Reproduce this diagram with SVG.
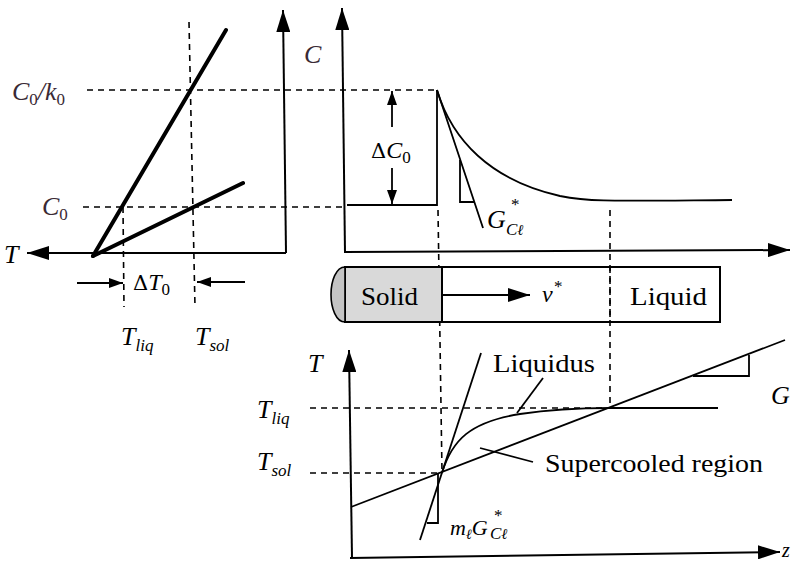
<svg xmlns="http://www.w3.org/2000/svg" width="798" height="567" viewBox="0 0 798 567">
<defs>
  <marker id="big" viewBox="0 0 22 14" refX="22" refY="7" markerWidth="22" markerHeight="14" markerUnits="userSpaceOnUse" orient="auto">
    <path d="M0,0 L22,7 L0,14 Z" fill="#000"/>
  </marker>
  <marker id="small" viewBox="0 0 14 10" refX="14" refY="5" markerWidth="14" markerHeight="10" markerUnits="userSpaceOnUse" orient="auto">
    <path d="M0,0 L14,5 L0,10 Z" fill="#000"/>
  </marker>
</defs>

<g id="left-panel">
  <g stroke="#000" stroke-width="1.6" fill="none" stroke-dasharray="6,5">
    <line x1="87" y1="90" x2="437" y2="90"/>
    <line x1="83" y1="207" x2="345" y2="207"/>
    <line x1="189" y1="22" x2="195" y2="307"/>
    <line x1="123" y1="207" x2="124" y2="307"/>
  </g>
  <g stroke="#000" stroke-width="4" fill="none" stroke-linecap="round">
    <line x1="93" y1="256" x2="226" y2="30"/>
    <line x1="93" y1="256" x2="243" y2="183"/>
  </g>
  <g font-family="Liberation Serif">
    <text font-size="26" font-style="italic" fill="#3a2a35" x="12" y="100">C<tspan font-size="17" font-style="normal" dy="5">0</tspan><tspan dy="-5">/k</tspan><tspan font-size="17" font-style="normal" dy="5">0</tspan></text>
    <text font-size="26" font-style="italic" fill="#3a2a35" x="42" y="215">C<tspan font-size="17" font-style="normal" dy="5">0</tspan></text>
    <text font-size="26" font-style="italic" x="4" y="263">T</text>
    <text font-size="24" x="133" y="290"><tspan font-family="DejaVu Serif" font-size="21">Δ</tspan><tspan font-style="italic">T</tspan><tspan font-size="17" dy="5">0</tspan></text>
    <text font-size="26" font-style="italic" x="121" y="345">T<tspan font-size="17" dy="6">liq</tspan></text>
    <text font-size="26" font-style="italic" x="195" y="345">T<tspan font-size="17" dy="6">sol</tspan></text>
  </g>
</g>

<g id="concentration-panel">
  <g stroke="#000" stroke-width="1.8" fill="none">
    <polyline points="347,205 437,205 437,90"/>
    <path d="M437,90 C452,140 490,180 560,196 C590,202 610,201 732,200"/>
    <line x1="437" y1="90" x2="483" y2="228"/>
    <polyline points="460,160 460,202 474,202"/>
  </g>
  <g stroke="#000" stroke-width="1.6" fill="none" stroke-dasharray="6,5">
    <line x1="438" y1="210" x2="442" y2="472"/>
    <line x1="610" y1="210" x2="610" y2="408"/>
  </g>
  <g font-family="Liberation Serif">
    <text font-size="26" font-style="italic" fill="#3a2a35" x="304" y="63">C</text>
    <text font-size="24" x="371" y="158"><tspan font-family="DejaVu Serif" font-size="21">Δ</tspan><tspan font-style="italic">C</tspan><tspan font-size="17" dy="5">0</tspan></text>
    <text font-size="26" font-style="italic" x="487" y="228">G</text>
    <text font-size="17" x="511" y="210">*</text>
    <text font-size="17" font-style="italic" x="506" y="235">C<tspan font-family="DejaVu Serif" font-size="15">ℓ</tspan></text>
  </g>
</g>

<g id="sample-bar">
  <rect x="345" y="267" width="375" height="55" fill="none" stroke="#000" stroke-width="2"/>
  <rect x="345" y="267" width="97" height="55" fill="#d9d9d9" stroke="#000" stroke-width="2"/>
  <path d="M345,267 C336,267 331,281 331,294.5 C331,308 336,322 345,322 Z" fill="#c4c4c4" stroke="#000" stroke-width="1.6"/>
  <line x1="610" y1="267" x2="610" y2="322" stroke="#000" stroke-width="1.6" stroke-dasharray="6,5"/>
  <g font-family="Liberation Serif">
    <text font-size="26" x="361" y="305" textLength="57" lengthAdjust="spacingAndGlyphs">Solid</text>
    <text font-size="26" x="630" y="305" textLength="77" lengthAdjust="spacingAndGlyphs">Liquid</text>
    <text font-size="24" font-style="italic" x="542" y="302">v</text>
    <text font-size="17" x="554" y="292">*</text>
  </g>
</g>

<g id="temperature-panel">
  <g stroke="#000" stroke-width="1.6" fill="none" stroke-dasharray="6,5">
    <line x1="310" y1="408" x2="610" y2="408"/>
    <line x1="310" y1="473" x2="442" y2="473"/>
  </g>
  <g stroke="#000" stroke-width="1.8" fill="none">
    <line x1="610" y1="408" x2="718" y2="408"/>
    <line x1="351" y1="507" x2="785" y2="340"/>
    <polyline points="693,376 749,376 749,355"/>
    <line x1="420" y1="540" x2="481" y2="353"/>
    <polyline points="438,473 438,523 427,523"/>
    <path d="M442,473 C452,440 470,422 520,414 C560,408 590,408 610,408"/>
    <line x1="517" y1="413" x2="543" y2="378"/>
    <line x1="480" y1="448" x2="533" y2="462"/>
  </g>
  <g font-family="Liberation Serif">
    <text font-size="26" font-style="italic" x="308" y="372">T</text>
    <text font-size="26" font-style="italic" x="257" y="418">T<tspan font-size="17" dy="6">liq</tspan></text>
    <text font-size="26" font-style="italic" x="257" y="470">T<tspan font-size="17" dy="6">sol</tspan></text>
    <text font-size="26" x="493" y="372" textLength="102" lengthAdjust="spacingAndGlyphs">Liquidus</text>
    <text font-size="26" x="545" y="472" textLength="218" lengthAdjust="spacingAndGlyphs">Supercooled region</text>
    <text font-size="26" font-style="italic" x="771" y="404">G</text>
    <text font-size="22" font-style="italic" x="450" y="535">m<tspan font-family="DejaVu Serif" font-size="14" dy="4">ℓ</tspan><tspan dy="-4">G</tspan></text>
    <text font-size="17" x="494" y="521">*</text>
    <text font-size="17" font-style="italic" x="490" y="539">C<tspan font-family="DejaVu Serif" font-size="15">ℓ</tspan></text>
    <text font-size="20" font-style="italic" x="782" y="557">z</text>
  </g>
</g>

<g id="connectors" fill="none" stroke="#000">
  <g stroke-width="2">
    <line x1="286" y1="253" x2="283" y2="10" marker-end="url(#big)"/>
    <line x1="286" y1="253" x2="27" y2="253" marker-end="url(#big)"/>
    <line x1="345" y1="253" x2="342" y2="8" marker-end="url(#big)"/>
    <line x1="345" y1="252" x2="790" y2="250" marker-end="url(#big)"/>
    <line x1="352" y1="558" x2="349" y2="350" marker-end="url(#big)"/>
    <line x1="350" y1="558" x2="780" y2="552" marker-end="url(#big)"/>
  </g>
  <g stroke-width="1.8">
    <line x1="442" y1="295" x2="530" y2="295" marker-end="url(#big)"/>
    <line x1="392" y1="127" x2="392" y2="91" marker-end="url(#small)"/>
    <line x1="392" y1="168" x2="392" y2="204" marker-end="url(#small)"/>
    <line x1="77" y1="283" x2="123" y2="283" marker-end="url(#small)"/>
    <line x1="245" y1="282" x2="197" y2="282" marker-end="url(#small)"/>
  </g>
</g>
</svg>
